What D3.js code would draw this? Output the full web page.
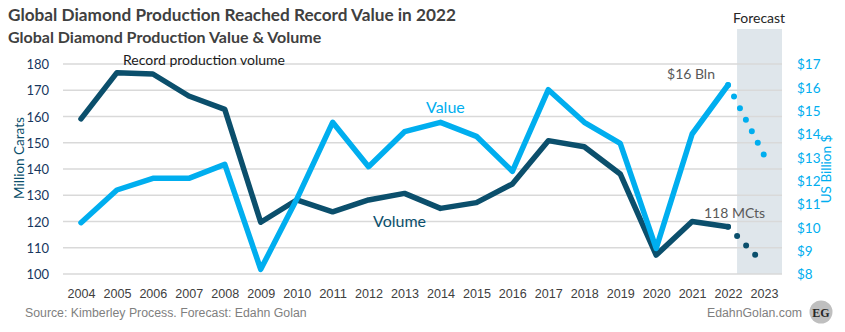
<!DOCTYPE html>
<html>
<head>
<meta charset="utf-8">
<script src="https://cdn.jsdelivr.net/npm/d3@7"></script>
<style>
  body { margin: 0; background: #fff; }
  svg { display: block; font-family: Lato, "Open Sans", sans-serif; }
</style>
</head>
<body>
<svg id="chart"></svg>
<script>
// data
const years = [2004, 2005, 2006, 2007, 2008, 2009, 2010, 2011, 2012, 2013,
  2014, 2015, 2016, 2017, 2018, 2019, 2020, 2021, 2022];
const volume = [159.1, 176.7, 176.2, 167.8, 162.7, 119.7, 128.2, 123.7, 128.2, 130.7,
  125.0, 127.2, 134.3, 150.8, 148.5, 138.1, 107.2, 120.0, 118.0];
const value = [10.2, 11.6, 12.1, 12.1, 12.7, 8.2, 11.2, 14.5, 12.6, 14.1,
  14.5, 13.9, 12.4, 15.9, 14.5, 13.6, 9.1, 14.0, 16.1];
const forecastYears = [2022, 2023];
const volumeForecast = [118.0, 103.8];
const valueForecast = [16.1, 13.1];
const allYears = years.concat([2023]);
const leftTicks = [100, 110, 120, 130, 140, 150, 160, 170, 180];
const rightTicks = [8, 9, 10, 11, 12, 13, 14, 15, 16, 17];

const DARK = "#0b4f6c";
const LIGHT = "#00aeef";
const NARROW = "'Liberation Sans', Arial, sans-serif";

class DualLineChart {
  margin = { top: 64, right: 63, bottom: 58, left: 63 }

  constructor(svg, width = 845, height = 332) {
    this.svg = svg;
    this.width = width;
    this.height = height;
  }

  initialize() {
    this.svg = d3.select(this.svg)
      .attr("width", this.width)
      .attr("height", this.height);

    this.svg.append("rect")
      .attr("width", this.width).attr("height", this.height).attr("fill", "#fff");

    this.x0 = this.margin.left;
    this.x1 = this.width - this.margin.right;
    this.yTop = this.margin.top;
    this.yBottom = this.height - this.margin.bottom;

    this.xScale = d3.scalePoint().domain(allYears).range([this.x0, this.x1]).padding(0.5);
    this.yLeft = d3.scaleLinear().domain([100, 180]).range([this.yBottom, this.yTop]);
    this.yRight = d3.scaleLinear().domain([8, 17]).range([this.yBottom, this.yTop]);

    this.band = this.svg.append("g");
    this.grid = this.svg.append("g");
    this.lines = this.svg.append("g");
    this.axes = this.svg.append("g");
    this.labels = this.svg.append("g");
  }

  update() {
    const step = this.xScale.step();

    // forecast shading
    this.band.append("rect")
      .attr("x", this.xScale(2022) + step * 0.25)
      .attr("y", 29)
      .attr("width", this.x1 - (this.xScale(2022) + step * 0.25))
      .attr("height", this.yBottom - 29)
      .attr("fill", "#dfe6eb");

    this.grid.selectAll("line")
      .data(leftTicks)
      .join("line")
      .attr("x1", this.x0).attr("x2", this.x1)
      .attr("y1", d => this.yLeft(d)).attr("y2", d => this.yLeft(d))
      .attr("stroke", "#d9d9d9").attr("stroke-width", 1.5);

    const volLine = d3.line().x((d, i) => this.xScale(years[i])).y(d => this.yLeft(d));
    const valLine = d3.line().x((d, i) => this.xScale(years[i])).y(d => this.yRight(d));
    const volFc = d3.line().x((d, i) => this.xScale(forecastYears[i])).y(d => this.yLeft(d));
    const valFc = d3.line().x((d, i) => this.xScale(forecastYears[i])).y(d => this.yRight(d));

    const dotted = (path, color) => path
      .attr("fill", "none").attr("stroke", color).attr("stroke-width", 6)
      .attr("stroke-linecap", "round").attr("stroke-dasharray", "0 13");

    this.lines.append("path").attr("d", volFc(volumeForecast)).call(dotted, DARK);
    this.lines.append("path").attr("d", valFc(valueForecast)).call(dotted, LIGHT);

    this.lines.append("path")
      .attr("d", volLine(volume))
      .attr("fill", "none").attr("stroke", DARK).attr("stroke-width", 5.5)
      .attr("stroke-linejoin", "round").attr("stroke-linecap", "round");
    this.lines.append("path")
      .attr("d", valLine(value))
      .attr("fill", "none").attr("stroke", LIGHT).attr("stroke-width", 5.5)
      .attr("stroke-linejoin", "round").attr("stroke-linecap", "round");

    // axes
    const left = this.axes.append("g")
      .attr("transform", `translate(${this.x0 - 11},0)`)
      .call(d3.axisLeft(this.yLeft).tickValues(leftTicks).tickSize(0));
    left.select(".domain").remove();
    left.selectAll("text").attr("fill", "#17375e").attr("font-size", 13)
      .attr("font-family", "Lato, sans-serif").attr("dy", "0.35em");

    const right = this.axes.append("g")
      .attr("transform", `translate(${this.x1 + 12},0)`)
      .call(d3.axisRight(this.yRight).tickValues(rightTicks).tickSize(0)
        .tickFormat(d => "$" + d));
    right.select(".domain").remove();
    right.selectAll("text").attr("fill", LIGHT).attr("font-size", 13.5)
      .attr("font-family", "Lato, sans-serif").attr("dy", "0.35em");

    const bottom = this.axes.append("g")
      .attr("transform", `translate(0,${this.yBottom + 12})`)
      .call(d3.axisBottom(this.xScale).tickSize(0).tickFormat(d3.format("d")));
    bottom.select(".domain").remove();
    bottom.selectAll("text").attr("fill", "#404040").attr("font-size", 13)
      .attr("font-family", NARROW)
      .attr("textLength", 28).attr("lengthAdjust", "spacingAndGlyphs");

    // titles and annotations
    const L = this.labels;
    L.append("text").attr("x", 8).attr("y", 21)
      .attr("font-size", 17.2).attr("font-weight", 700).attr("fill", "#404040")
      .text("Global Diamond Production Reached Record Value in 2022");
    L.append("text").attr("x", 8).attr("y", 43)
      .attr("font-size", 16).attr("font-weight", 700).attr("fill", "#404040")
      .text("Global Diamond Production Value & Volume");

    L.append("text").attr("transform", "translate(24,158) rotate(-90)")
      .attr("text-anchor", "middle").attr("font-size", 13.5).attr("fill", DARK)
      .text("Million Carats");
    L.append("text").attr("transform", "translate(831,169) rotate(-90)")
      .attr("text-anchor", "middle").attr("font-size", 13.5).attr("fill", LIGHT)
      .text("US Billion $");

    L.append("text").attr("x", this.xScale(2023) - 5).attr("y", 23)
      .attr("text-anchor", "middle").attr("font-size", 14).attr("fill", "#262626")
      .text("Forecast");

    L.append("text").attr("x", 123).attr("y", 65)
      .attr("font-size", 14).attr("fill", "#1a1a1a")
      .text("Record production volume");
    L.append("text").attr("x", 426).attr("y", 113)
      .attr("font-size", 16).attr("fill", LIGHT).text("Value");
    L.append("text").attr("x", 373).attr("y", 227)
      .attr("font-size", 16).attr("fill", DARK).text("Volume");
    L.append("text").attr("x", 715).attr("y", 79).attr("text-anchor", "end")
      .attr("font-size", 14).attr("fill", "#595959").text("$16 Bln");
    L.append("text").attr("x", 704).attr("y", 218)
      .attr("font-size", 14).attr("fill", "#595959").text("118 MCts");

    // footer
    L.append("text").attr("x", 25).attr("y", 317)
      .attr("font-family", NARROW)
      .attr("font-size", 12.3).attr("fill", "#7f7f7f")
      .text("Source: Kimberley Process. Forecast: Edahn Golan");
    L.append("text").attr("x", 802).attr("y", 317).attr("text-anchor", "end")
      .attr("font-family", NARROW)
      .attr("font-size", 12.3).attr("fill", "#7f7f7f")
      .text("EdahnGolan.com");
    L.append("circle").attr("cx", 821).attr("cy", 312).attr("r", 11.5)
      .attr("fill", "#bfbfbf");
    L.append("text").attr("x", 821).attr("y", 316.5).attr("text-anchor", "middle")
      .attr("font-family", "'Liberation Serif', serif").attr("font-weight", 700)
      .attr("font-size", 12).attr("fill", "#262626").text("EG");
  }
}

const chart = new DualLineChart(document.getElementById("chart"));
chart.initialize();
chart.update();
</script>
</body>
</html>
